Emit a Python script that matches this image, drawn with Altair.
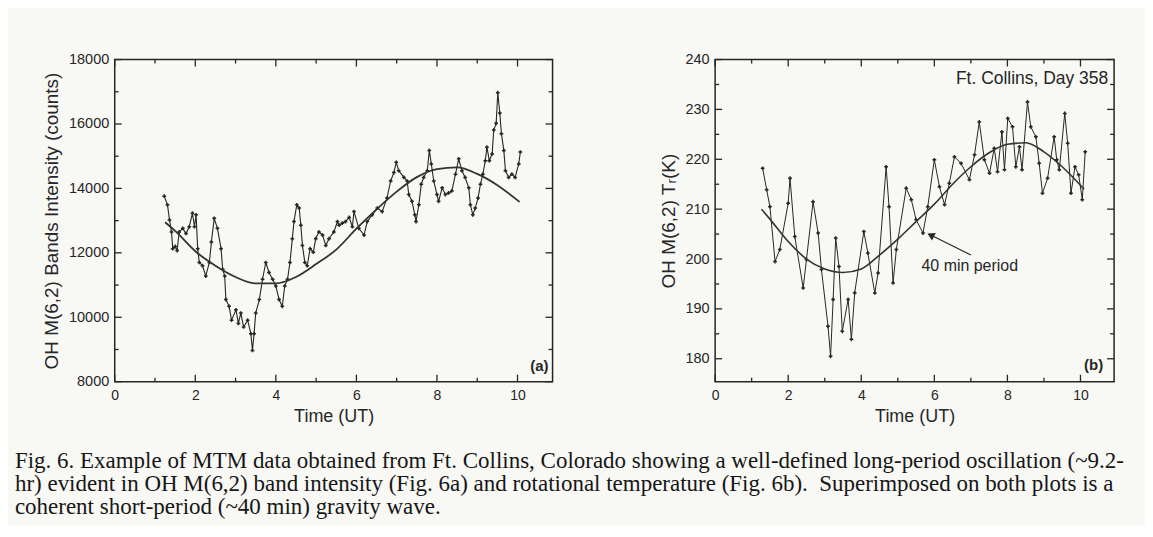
import altair as alt
import pandas as pd

# ---------------- Panel (a): OH M(6,2) band intensity ----------------
a_time = [1.23, 1.31, 1.36, 1.41, 1.44, 1.50, 1.55, 1.60, 1.69, 1.77, 1.85, 1.93, 1.98, 2.02, 2.06,
          2.10, 2.18, 2.26, 2.35, 2.40, 2.47, 2.55, 2.64, 2.68, 2.73, 2.76, 2.84, 2.90, 3.01, 3.07,
          3.13, 3.20, 3.30, 3.38, 3.42, 3.46, 3.50, 3.59, 3.67, 3.75, 3.83, 3.92, 4.00, 4.08, 4.16,
          4.22, 4.29, 4.35, 4.41, 4.45, 4.52, 4.58, 4.62, 4.66, 4.72, 4.78, 4.85, 4.93, 4.99, 5.07,
          5.16, 5.24, 5.32, 5.44, 5.53, 5.57, 5.65, 5.73, 5.82, 5.90, 5.94, 6.06, 6.19, 6.27, 6.39,
          6.52, 6.64, 6.76, 6.85, 6.93, 6.99, 7.05, 7.18, 7.26, 7.30, 7.38, 7.45, 7.48, 7.55, 7.61,
          7.67, 7.76, 7.81, 7.86, 7.92, 8.00, 8.04, 8.13, 8.21, 8.29, 8.37, 8.46, 8.54, 8.62, 8.70,
          8.79, 8.83, 8.89, 8.95, 9.02, 9.08, 9.14, 9.20, 9.24, 9.30, 9.37, 9.41, 9.47, 9.51, 9.56,
          9.60, 9.66, 9.70, 9.78, 9.86, 9.94, 10.03, 10.07]
a_counts = [13760, 13490, 13020, 12650, 12130, 12200, 12070, 12650, 12760, 12600, 12810, 13230, 12810, 13180, 12130,
            11700, 11600, 11280, 11700, 12340, 13070, 12760, 12130, 11490, 11280, 10550, 10340, 9910, 10230, 9810,
            10130, 9700, 9910, 9490, 8970, 9490, 10130, 10550, 11180, 11700, 11390, 11180, 10970, 10550, 10340,
            10970, 11180, 11700, 12440, 12970, 13490, 13390, 12860, 12230, 11700, 11600, 12130, 12020, 12440, 12650,
            12550, 12230, 12440, 12650, 12970, 12860, 12920, 12970, 13100, 12810, 13280, 12760, 12550, 12970, 13180,
            13390, 13280, 13700, 14230, 14490, 14810, 14550, 14340, 14230, 13810, 13600, 13180, 12970, 13490, 14130,
            14340, 14550, 15180, 14760, 14230, 13810, 13600, 14020, 13810, 13860, 13920, 14440, 14920, 14550, 14340,
            14020, 13490, 13180, 13390, 13700, 14130, 14440, 14860, 15280, 14860, 15070, 15810, 16020, 16970, 16340,
            15700, 15180, 14550, 14340, 14440, 14340, 14760, 15130]
a_fit_time = [1.25, 1.5, 2.0, 2.5, 3.0, 3.5, 4.0, 4.5, 5.0, 5.5, 6.0, 6.5, 7.0, 7.5, 8.0, 8.5, 9.0, 9.5, 10.05]
a_fit_counts = [12950, 12680, 12050, 11600, 11250, 11050, 11050, 11250, 11650, 12100, 12750, 13350, 13900,
                14350, 14600, 14650, 14450, 14100, 13580]

# ---------------- Panel (b): OH M(6,2) rotational temperature ----------------
b_time = [1.30, 1.41, 1.50, 1.64, 1.77, 2.00, 2.05, 2.18, 2.41, 2.50, 2.68, 2.82, 2.91, 3.09, 3.16,
          3.23, 3.30, 3.39, 3.48, 3.64, 3.73, 3.82, 4.07, 4.18, 4.37, 4.46, 4.68, 4.76, 4.87, 4.96,
          5.23, 5.37, 5.50, 5.69, 5.82, 6.00, 6.14, 6.28, 6.41, 6.55, 6.73, 6.96, 7.10, 7.23, 7.37,
          7.51, 7.64, 7.73, 7.85, 7.92, 8.01, 8.14, 8.23, 8.33, 8.40, 8.55, 8.64, 8.78, 8.87, 8.96,
          9.10, 9.28, 9.35, 9.42, 9.57, 9.65, 9.74, 9.85, 9.95, 10.05, 10.13]
b_temp = [218.2, 213.9, 210.5, 199.5, 201.9, 211.2, 216.2, 204.5, 194.2, 199.9, 211.5, 205.2, 197.9, 186.5, 180.5,
          191.9, 204.2, 198.5, 185.5, 191.9, 183.9, 193.2, 205.5, 201.2, 193.2, 197.2, 218.5, 210.5, 195.2, 201.9,
          214.2, 211.9, 207.9, 205.2, 210.5, 219.9, 214.5, 210.9, 215.2, 220.5, 219.2, 215.9, 220.9, 227.5, 219.9,
          217.2, 222.2, 217.5, 225.5, 217.9, 228.2, 226.5, 218.5, 222.5, 217.9, 231.5, 226.5, 224.5, 219.2, 213.2,
          216.2, 224.5, 219.9, 217.9, 229.2, 223.2, 213.2, 218.5, 216.9, 211.9, 221.5]
b_fit_time = [1.27, 1.5, 2.0, 2.5, 3.0, 3.5, 4.0, 4.5, 5.0, 5.5, 6.0, 6.5, 7.0, 7.5, 8.0, 8.5, 9.0, 9.5, 10.1]
b_fit_temp = [210.0, 208.0, 203.5, 200.0, 198.0, 197.3, 198.0, 200.8, 204.0, 207.5, 211.0, 215.0, 218.5,
              221.3, 223.0, 223.3, 221.5, 218.5, 214.0]

# axis ticks
x_major = [0, 2, 4, 6, 8, 10]
x_minor = [1, 3, 5, 7, 9]
a_y_major = [8000, 10000, 12000, 14000, 16000, 18000]
a_y_minor = [9000, 11000, 13000, 15000, 17000]
b_y_major = [180, 190, 200, 210, 220, 230, 240]
b_y_minor = [185, 195, 205, 215, 225, 235]

# annotation (b)
arrow_time = [7.0, 5.9]
arrow_temp = [200.8, 204.8]
note_time = [6.97]
note_temp = [198.6]

INK = "#262626"
SANS = "Liberation Sans"


def axis_x():
    return alt.Axis(values=x_major, format="d", title="Time (UT)", ticks=False, domain=False, grid=False,
                    labelFlush=False, labelPadding=7, titlePadding=5, labelFontSize=14, titleFontSize=18,
                    titleFontWeight="normal", labelFont=SANS, titleFont=SANS, labelColor=INK, titleColor=INK)


def axis_y(values, title):
    return alt.Axis(values=values, format="d", title=title, ticks=False, domain=False, grid=False,
                    labelPadding=6, titlePadding=7, labelFontSize=14.5, titleFontSize=19,
                    titleFontWeight="normal", labelFont=SANS, titleFont=SANS, labelColor=INK, titleColor=INK)


def tick_layers(xs, ys, ax, ay, W, H, ymaj, ymin):
    layers = []
    for vals, ln in ((x_major, 7), (x_minor, 4)):
        d = pd.DataFrame({"v": vals})
        layers.append(alt.Chart(d).mark_rule(color=INK, strokeWidth=1.3).encode(
            x=alt.X("v:Q", scale=xs, axis=ax), y=alt.value(H), y2=alt.value(H - ln)))
        layers.append(alt.Chart(d).mark_rule(color=INK, strokeWidth=1.3).encode(
            x=alt.X("v:Q", scale=xs, axis=ax), y=alt.value(0), y2=alt.value(ln)))
    for vals, ln in ((ymaj, 7), (ymin, 4)):
        d = pd.DataFrame({"v": vals})
        layers.append(alt.Chart(d).mark_rule(color=INK, strokeWidth=1.3).encode(
            y=alt.Y("v:Q", scale=ys, axis=ay), x=alt.value(0), x2=alt.value(ln)))
        layers.append(alt.Chart(d).mark_rule(color=INK, strokeWidth=1.3).encode(
            y=alt.Y("v:Q", scale=ys, axis=ay), x=alt.value(W), x2=alt.value(W - ln)))
    return layers


# ---------- panel a ----------
WA, HA = 439, 323
xs_a = alt.Scale(domain=[0, 10.87], nice=False, zero=False)
ys_a = alt.Scale(domain=[8000, 18000], nice=False, zero=False)
ax_a = axis_x()
ay_a = axis_y(a_y_major, "OH M(6,2) Bands Intensity (counts)")
df_a = pd.DataFrame({"t": a_time, "v": a_counts})
fit_a = pd.DataFrame({"t": a_fit_time, "v": a_fit_counts})


def XA(f="t:Q"):
    return alt.X(f, scale=xs_a, axis=ax_a)


def YA(f="v:Q"):
    return alt.Y(f, scale=ys_a, axis=ay_a)


a_line = alt.Chart(df_a).mark_line(color=INK, strokeWidth=1.1).encode(x=XA(), y=YA())
a_pts = alt.Chart(df_a).mark_point(shape="cross", size=14, filled=True, color=INK, opacity=1).encode(
    x=XA(), y=YA())
a_fit = alt.Chart(fit_a).mark_line(color="#333333", strokeWidth=1.8, interpolate="monotone").encode(
    x=XA(), y=YA())
a_lab = alt.Chart(pd.DataFrame({"s": ["(a)"]})).mark_text(
    align="right", baseline="alphabetic", font=SANS, fontSize=15, fontWeight="bold", color=INK).encode(
    text="s:N", x=alt.value(WA - 4), y=alt.value(HA - 11))

panel_a = alt.layer(a_line, a_pts, a_fit, a_lab,
                    *tick_layers(xs_a, ys_a, ax_a, ay_a, WA, HA, a_y_major, a_y_minor)
                    ).properties(width=WA, height=HA)

# ---------- panel b ----------
WB, HB = 400, 323
xs_b = alt.Scale(domain=[0, 10.92], nice=False, zero=False)
ys_b = alt.Scale(domain=[175.4, 240], nice=False, zero=False)
ax_b = axis_x()
ay_b = axis_y(b_y_major, "OH M(6,2) T\u1d63(K)")
df_b = pd.DataFrame({"t": b_time, "v": b_temp})
fit_b = pd.DataFrame({"t": b_fit_time, "v": b_fit_temp})


def XB(f="t:Q"):
    return alt.X(f, scale=xs_b, axis=ax_b)


def YB(f="v:Q"):
    return alt.Y(f, scale=ys_b, axis=ay_b)


b_line = alt.Chart(df_b).mark_line(color=INK, strokeWidth=1.0).encode(x=XB(), y=YB())
b_pts = alt.Chart(df_b).mark_point(shape="cross", size=14, filled=True, color=INK, opacity=1).encode(
    x=XB(), y=YB())
b_fit = alt.Chart(fit_b).mark_line(color="#333333", strokeWidth=1.6, interpolate="monotone").encode(
    x=XB(), y=YB())
arrow_df = pd.DataFrame({"t": arrow_time, "v": arrow_temp, "o": [0, 1]})
b_arrow = alt.Chart(arrow_df).mark_line(color=INK, strokeWidth=1.2).encode(
    x=XB(), y=YB(), order="o:Q")
b_head = alt.Chart(arrow_df.iloc[[1]]).mark_point(
    shape="triangle-up", size=70, filled=True, color=INK, angle=297, opacity=1).encode(x=XB(), y=YB())
b_note = alt.Chart(pd.DataFrame({"t": note_time, "v": note_temp, "s": ["40 min period"]})).mark_text(
    align="center", baseline="middle", font=SANS, fontSize=16, color=INK).encode(
    x=XB(), y=YB(), text="s:N")
b_site = alt.Chart(pd.DataFrame({"s": ["Ft. Collins, Day 358"]})).mark_text(
    align="right", baseline="middle", font=SANS, fontSize=17.5, color=INK).encode(
    text="s:N", x=alt.value(WB - 6), y=alt.value(20))
b_lab = alt.Chart(pd.DataFrame({"s": ["(b)"]})).mark_text(
    align="right", baseline="alphabetic", font=SANS, fontSize=15, fontWeight="bold", color=INK).encode(
    text="s:N", x=alt.value(WB - 11), y=alt.value(HB - 12))

panel_b = alt.layer(b_line, b_pts, b_fit, b_arrow, b_head, b_note, b_site, b_lab,
                    *tick_layers(xs_b, ys_b, ax_b, ay_b, WB, HB, b_y_major, b_y_minor)
                    ).properties(width=WB, height=HB)

caption = [
    "Fig. 6. Example of MTM data obtained from Ft. Collins, Colorado showing a well-defined long-period oscillation (~9.2-",
    "hr) evident in OH M(6,2) band intensity (Fig. 6a) and rotational temperature (Fig. 6b).\u2002Superimposed on both plots is a",
    "coherent short-period (~40 min) gravity wave.",
]

chart = alt.hconcat(panel_a, panel_b, spacing=104).properties(
    title=alt.TitleParams(text=caption, orient="bottom", anchor="start", font="Liberation Serif",
                          fontSize=23.05, lineHeight=23, fontWeight="normal", color="#161616",
                          offset=24, dx=-27),
    padding={"left": 6, "top": 42, "right": 20, "bottom": 5},
).configure(background="#f8f8f5").configure_view(stroke=INK, strokeWidth=1.5)

chart.save("out.html", embed_options={"renderer": "svg", "actions": False})
